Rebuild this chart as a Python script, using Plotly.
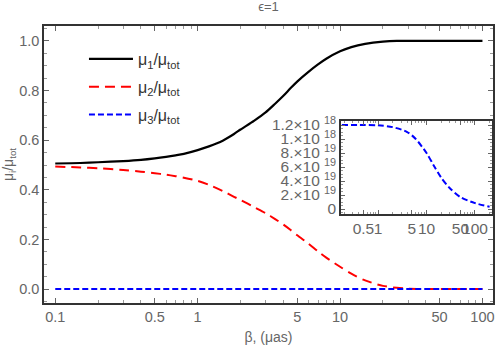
import plotly.graph_objects as go

# ---- data ----
beta = [0.1, 0.15, 0.2, 0.3, 0.4, 0.5, 0.6, 0.7, 0.8, 1, 1.2, 1.5, 1.8, 2, 2.5, 3, 3.5,
        4, 4.5, 5, 6, 7, 8, 10, 12, 15, 20, 25, 30, 40, 50, 70, 100]
mu1 = [0.506, 0.508, 0.511, 0.516, 0.521, 0.527, 0.533, 0.539, 0.545, 0.560, 0.575,
       0.598, 0.625, 0.643, 0.679, 0.712, 0.747, 0.779, 0.810, 0.836, 0.875, 0.905,
       0.928, 0.958, 0.975, 0.988, 0.997, 1.0, 1.0, 1.0, 1.0, 1.0, 1.0]
mu2 = [0.494, 0.490, 0.487, 0.480, 0.473, 0.467, 0.461, 0.455, 0.449, 0.436, 0.420,
       0.395, 0.372, 0.359, 0.330, 0.306, 0.282, 0.260, 0.238, 0.217, 0.183, 0.152,
       0.127, 0.090, 0.062, 0.035, 0.013, 0.005, 0.002, 0.0, 0.0, 0.0, 0.0]
mu3 = [0.0, 0.0, 0.0, 0.0, 0.0, 0.0, 0.0, 0.0, 0.0, 0.0, 0.0,
       0.0, 0.0, 0.0, 0.0, 0.0, 0.0, 0.0, 0.0, 0.0, 0.0, 0.0,
       0.0, 0.0, 0.0, 0.0, 0.0, 0.0, 0.0, 0.0, 0.0, 0.0, 0.0]

beta_inset = [0.18, 0.5, 1, 2, 4, 6, 10, 14, 20, 30, 50, 100, 200]
mu3_inset = [1.20e-18, 1.20e-18, 1.195e-18, 1.17e-18, 1.10e-18, 1.0e-18, 0.80e-18,
             0.625e-18, 0.45e-18, 0.30e-18, 0.17e-18, 0.085e-18, 0.033e-18]

x_ticks = [0.1, 0.5, 1, 5, 10, 50, 100]
x_ticktext = ["0.1", "0.5", "1", "5", "10", "50", "100"]
x_minor = [0.2, 0.3, 0.4, 0.6, 0.7, 0.8, 0.9, 2, 3, 4, 6, 7, 8, 9,
           20, 30, 40, 60, 70, 80, 90]
inset_x_ticks = [0.5, 1, 5, 10, 50, 100]
inset_x_ticktext = ["0.5", "1", "5", "10", "50", "100"]
inset_x_minor = [0.2, 0.3, 0.4, 0.6, 0.7, 0.8, 0.9, 2, 3, 4, 6, 7, 8, 9,
                 20, 30, 40, 60, 70, 80, 90, 200]
inset_y_ticks = [0, 2e-19, 4e-19, 6e-19, 8e-19, 1e-18, 1.2e-18]
inset_y_ticktext = ["0", "2.×10 <sup>19</sup>", "4.×10 <sup>19</sup>",
                    "6.×10 <sup>19</sup>", "8.×10 <sup>19</sup>",
                    "1.×10 <sup>18</sup>", "1.2×10 <sup>18</sup>"]

FONT = "Liberation Sans"
GREY = "#666666"
FRAME = "#333333"

fig = go.Figure()
fig.add_trace(go.Scatter(x=beta, y=mu1, mode="lines",
                         line=dict(color="black", width=2.2, shape="spline", smoothing=0.8),
                         name="μ<sub>1</sub>/μ<sub>tot</sub>", legendgroup="a"))
fig.add_trace(go.Scatter(x=beta, y=mu2, mode="lines",
                         line=dict(color="#ff0000", width=2, dash="10px,6px",
                                   shape="spline", smoothing=0.8),
                         name="μ<sub>2</sub>/μ<sub>tot</sub>", legendgroup="b"))
fig.add_trace(go.Scatter(x=beta, y=mu3, mode="lines",
                         line=dict(color="#0000ff", width=2, dash="6px,3px"),
                         name="μ<sub>3</sub>/μ<sub>tot</sub>", legendgroup="c"))
fig.add_trace(go.Scatter(x=beta_inset, y=mu3_inset, mode="lines",
                         line=dict(color="#0000ff", width=2, dash="6px,3px",
                                   shape="spline", smoothing=0.8),
                         showlegend=False, xaxis="x2", yaxis="y2"))

axis_common = dict(showgrid=False, zeroline=False, showline=True, linecolor=FRAME,
                   linewidth=1.5, ticks="inside", mirror="allticks", tickcolor=GREY)

fig.update_layout(
    width=498, height=348, autosize=False,
    margin=dict(l=44, r=5, t=26, b=45),
    paper_bgcolor="white", plot_bgcolor="white",
    font=dict(family=FONT, color=GREY),
    title=dict(text="ϵ=1", x=0.5, xref="paper", y=0.982, yanchor="middle",
               font=dict(size=13, color=GREY, family=FONT)),
    xaxis=dict(type="log", range=[-1.079, 2.074], tickmode="array",
               tickvals=x_ticks, ticktext=x_ticktext, ticklen=5, tickangle=0,
               tickfont=dict(size=14.5, color=GREY),
               minor=dict(tickvals=x_minor, ticks="inside", ticklen=3, tickcolor="#999999"),
               title=dict(text="β, (μas)", font=dict(size=14, color=GREY), standoff=8),
               automargin=False, **axis_common),
    yaxis=dict(range=[-0.056, 1.06], dtick=0.2, tick0=0, tickformat=".1f", ticklen=5,
               tickfont=dict(size=14.5, color=GREY),
               minor=dict(dtick=0.05, ticks="inside", ticklen=3, tickcolor="#999999"),
               title=dict(text="μ<sub>i</sub>/μ<sub>tot</sub>", font=dict(size=14, color=GREY),
                          standoff=6),
               automargin=False, **axis_common),
    xaxis2=dict(type="log", range=[-0.763, 2.351], domain=[0.6615, 0.9978], anchor="y2",
                tickmode="array", tickvals=inset_x_ticks, ticktext=inset_x_ticktext,
                ticklen=4, tickangle=0, tickfont=dict(size=15.5, color=GREY),
                minor=dict(tickvals=inset_x_minor, ticks="inside", ticklen=2, tickcolor="#999999"),
                automargin=False, **axis_common),
    yaxis2=dict(range=[-7.1e-20, 1.257e-18], domain=[0.3213, 0.657], anchor="x2",
                tickmode="array", tickvals=inset_y_ticks, ticktext=inset_y_ticktext,
                ticklen=4, tickangle=0, tickfont=dict(size=15.5, color=GREY),
                minor=dict(dtick=5e-20, tick0=0, ticks="inside", ticklen=2, tickcolor="#999999"),
                automargin=False, **axis_common),
    legend=dict(x=0.089, y=0.942, xanchor="left", yanchor="top", bgcolor="rgba(0,0,0,0)",
                font=dict(size=16, color="#333333", family=FONT), tracegroupgap=4,
                itemwidth=44),
    showlegend=True,
)

fig.write_html("out.html", config={"displayModeBar": False},
               post_script="document.body.style.margin='0px';")
